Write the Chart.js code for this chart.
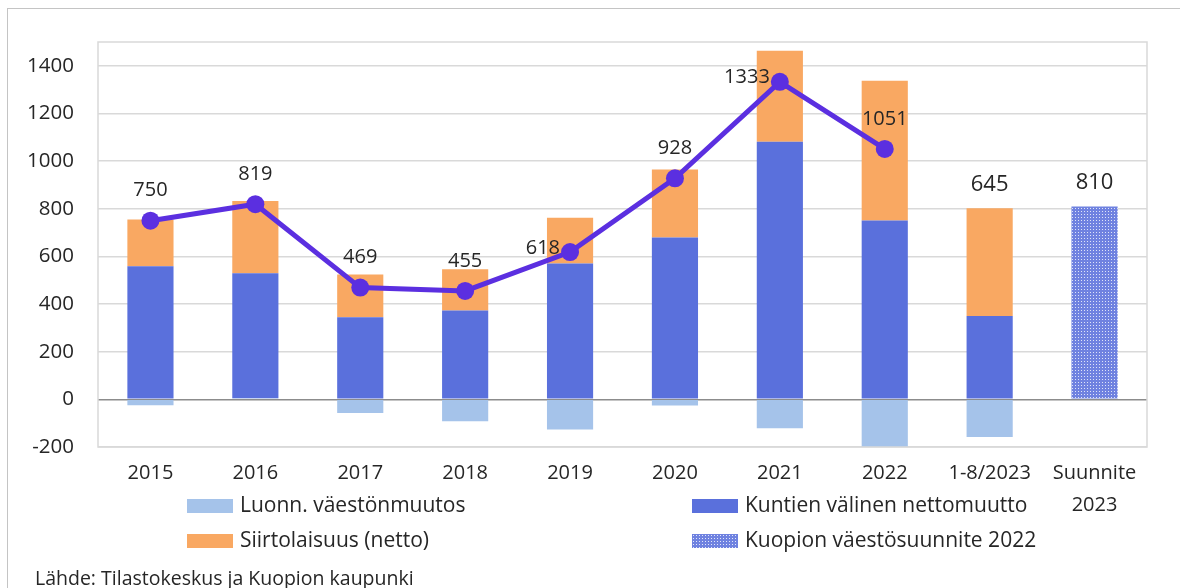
<!DOCTYPE html>
<html lang="fi">
<head>
    <meta charset="UTF-8">
    <title>Kuopion väestönmuutos</title>
    <script src="https://cdn.jsdelivr.net/npm/chart.js"></script>
    <style>
        html, body {
            margin: 0;
            padding: 0;
            background: #ffffff;
            font-family: 'Open Sans', sans-serif;
        }

        #wrap {
            position: relative;
            width: 1180px;
            height: 588px;
            overflow: hidden;
        }

        #frame {
            position: absolute;
            left: 7px;
            top: 8px;
            width: 1200px;
            height: 620px;
            border: 1.5px solid #c4c4c4;
            box-sizing: border-box;
        }

        #chart {
            position: absolute;
            left: 0;
            top: 0;
        }

        .legend-item {
            position: absolute;
            font-size: 21px;
            color: #262626;
            white-space: nowrap;
            line-height: 24px;
        }

        .legend-item .box {
            display: inline-block;
            width: 46px;
            height: 14px;
            margin-right: 7px;
            vertical-align: -1px;
        }

        #source {
            position: absolute;
            left: 35px;
            top: 564px;
            font-size: 19.5px;
            color: #262626;
        }
    </style>
</head>
<body>
<div id="wrap">
    <div id="frame"></div>
    <canvas id="chart" width="1180" height="588"></canvas>

    <div class="legend-item" style="left:187px; top:492px;"><span class="box" style="background:#a5c3ea"></span>Luonn. väestönmuutos</div>
    <div class="legend-item" style="left:692px; top:492px;"><span class="box" style="background:#5a70dc"></span>Kuntien välinen nettomuutto</div>
    <div class="legend-item" style="left:187px; top:527px;"><span class="box" style="background:#f9a862"></span>Siirtolaisuus (netto)</div>
    <div class="legend-item" style="left:692px; top:527px;"><span class="box" id="patternBox"></span>Kuopion väestösuunnite 2022</div>

    <div id="source">Lähde: Tilastokeskus ja Kuopion kaupunki</div>
</div>

<script>
    // categories
    var years = ['2015', '2016', '2017', '2018', '2019', '2020', '2021', '2022', '1-8/2023', ['Suunnite', '2023']];

    // series
    var luonnMuutos   = [-25, 5, -57, -92, -127, -26, -121, -285, -158, null];
    var kuntienValinen = [559, 524, 345, 373, 570, 679, 1081, 751, 350, null];
    var siirtolaisuus = [196, 304, 179, 173, 192, 286, 382, 586, 452, null];
    var suunnite      = [null, null, null, null, null, null, null, null, null, 810];
    var kokonais      = [750, 819, 469, 455, 618, 928, 1333, 1051, null, null];

    // value labels and where they go
    var valueLabels = ['750', '819', '469', '455', '618', '928', '1333', '1051', '645', '810'];
    var labelPos = ['top', 'top', 'top', 'top', 'left', 'top', 'left', 'top', 'bar', 'bar'];

    // y axis ticks
    var yMin = -200, yMax = 1500, yStep = 200;

    // dotted fill for the forecast bar
    function makePattern() {
        var c = document.createElement('canvas');
        c.width = 3;
        c.height = 3;
        var g = c.getContext('2d');
        g.fillStyle = '#6f82e0';
        g.fillRect(0, 0, 3, 3);
        g.fillStyle = '#dfe4f8';
        g.fillRect(1, 1, 1, 1);
        return g.createPattern(c, 'repeat');
    }
    var dotPattern = makePattern();
    document.getElementById('patternBox').style.background =
        'radial-gradient(circle, #e2e6f9 0.6px, #6f82e0 1px) 0 0 / 3px 3px';

    var plotFrame = {
        id: 'plotFrame',
        afterDraw: function(chart) {
            var a = chart.chartArea;
            var ctx = chart.ctx;
            ctx.save();
            ctx.strokeStyle = '#d9d9d9';
            ctx.lineWidth = 1.5;
            ctx.strokeRect(a.left, a.top, a.right - a.left, a.bottom - a.top);
            ctx.restore();
        }
    };

    var valueLabelPlugin = {
        id: 'valueLabels',
        afterDatasetsDraw: function(chart) {
            var ctx = chart.ctx;
            var lineMeta = chart.getDatasetMeta(4);
            ctx.save();
            ctx.fillStyle = '#262626';
            ctx.textBaseline = 'middle';
            for (var i = 0; i < valueLabels.length; i++) {
                var pos = labelPos[i];
                if (pos === 'bar') {
                    // above the top of the stacked bar
                    var top = Infinity, x = 0;
                    for (var d = 0; d < 4; d++) {
                        var el = chart.getDatasetMeta(d).data[i];
                        var v = chart.data.datasets[d].data[i];
                        if (el && v != null && v > 0) {
                            top = Math.min(top, el.y);
                            x = el.x;
                        }
                    }
                    ctx.font = '22px "Open Sans"';
                    ctx.textAlign = 'center';
                    ctx.fillText(valueLabels[i], x, top - 24);
                } else {
                    var p = lineMeta.data[i];
                    ctx.font = '20px "Open Sans"';
                    if (pos === 'left') {
                        ctx.textAlign = 'right';
                        ctx.fillText(valueLabels[i], p.x - 10, p.y - 4);
                    } else {
                        ctx.textAlign = 'center';
                        ctx.fillText(valueLabels[i], p.x, p.y - 30);
                    }
                }
            }
            ctx.restore();
        }
    };

    var ctx = document.getElementById('chart').getContext('2d');
    var chart = new Chart(ctx, {
        type: 'bar',
        data: {
            labels: years,
            datasets: [
                {
                    label: 'Luonn. väestönmuutos',
                    data: luonnMuutos,
                    backgroundColor: '#a5c3ea',
                    stack: 'bars',
                    order: 1
                },
                {
                    label: 'Kuntien välinen nettomuutto',
                    data: kuntienValinen,
                    backgroundColor: '#5a70dc',
                    stack: 'bars',
                    order: 1
                },
                {
                    label: 'Siirtolaisuus (netto)',
                    data: siirtolaisuus,
                    backgroundColor: '#f9a862',
                    stack: 'bars',
                    order: 1
                },
                {
                    label: 'Kuopion väestösuunnite 2022',
                    data: suunnite,
                    backgroundColor: dotPattern,
                    stack: 'bars',
                    order: 1
                },
                {
                    type: 'line',
                    label: 'Yhteensä',
                    data: kokonais,
                    borderColor: '#5b2fe0',
                    backgroundColor: '#5b2fe0',
                    borderWidth: 5,
                    pointRadius: 9,
                    pointHoverRadius: 9,
                    pointBorderWidth: 0,
                    tension: 0,
                    stack: 'line',
                    order: 0
                }
            ]
        },
        options: {
            responsive: false,
            animation: false,
            datasets: {
                bar: {
                    categoryPercentage: 1,
                    barPercentage: 0.44
                }
            },
            layout: {
                padding: { left: 0, top: 42, right: 33, bottom: 51 }
            },
            plugins: {
                legend: { display: false },
                tooltip: { enabled: false }
            },
            scales: {
                x: {
                    stacked: true,
                    grid: { display: false },
                    border: { display: false },
                    ticks: {
                        color: '#262626',
                        font: { family: 'Open Sans', size: 20, lineHeight: 1.6 },
                        padding: 2,
                        maxRotation: 0,
                        autoSkip: false
                    },
                    afterFit: function(scale) { scale.height = 90; }
                },
                y: {
                    stacked: true,
                    min: yMin,
                    max: yMax,
                    afterBuildTicks: function(scale) {
                        scale.ticks = scale.ticks.filter(function(t) { return t.value < yMax; });
                    },
                    afterFit: function(scale) { scale.width = 98; },
                    grid: {
                        drawTicks: false,
                        lineWidth: 1.5,
                        color: function(c) {
                            return c.tick && c.tick.value === 0 ? '#8c8c8c' : '#d9d9d9';
                        }
                    },
                    border: { display: false },
                    ticks: {
                        stepSize: yStep,
                        color: '#262626',
                        font: { family: 'Open Sans', size: 20.5 },
                        padding: 24,
                        callback: function(v) { return String(v); }
                    }
                }
            }
        },
        plugins: [plotFrame, valueLabelPlugin]
    });
</script>
</body>
</html>
